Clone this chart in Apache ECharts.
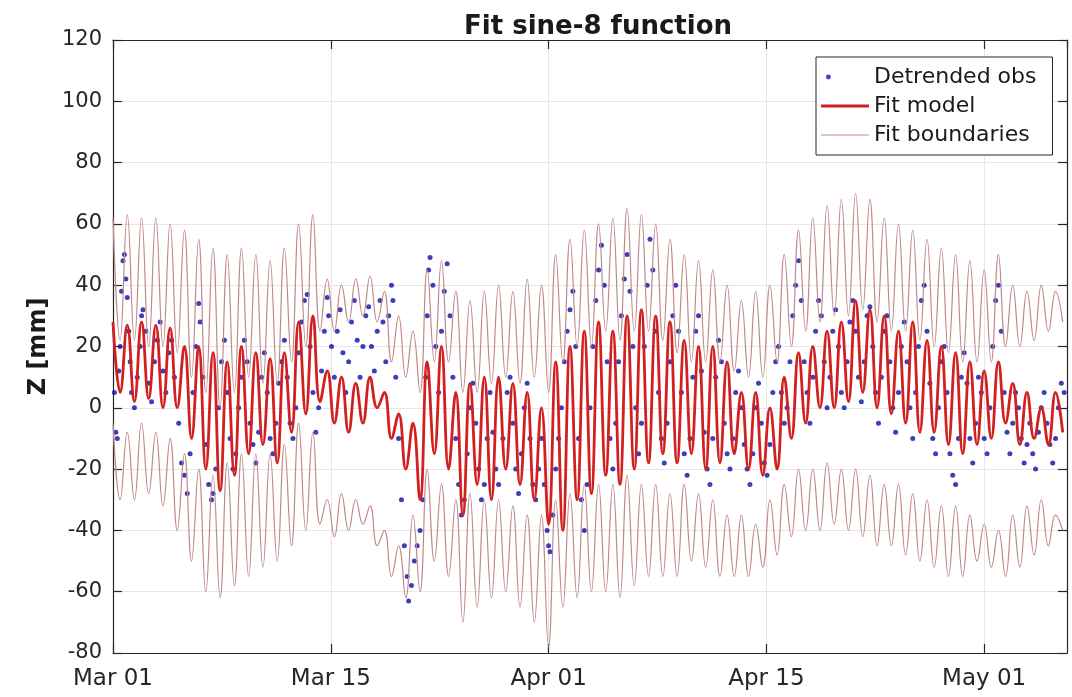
<!DOCTYPE html>
<html>
<head>
<meta charset="utf-8">
<script src="https://cdn.jsdelivr.net/npm/echarts@6/dist/echarts.min.js"></script>
<style>
  html, body { margin: 0; padding: 0; background: #fff; }
  #chart { width: 1072px; height: 697px; }
</style>
</head>
<body>
<div id="chart"></div>
<script>
// Time axis is in days since Mar 01; tick marks every 15.25 days.
const tickLabels = ['Mar 01', 'Mar 15', 'Apr 01', 'Apr 15', 'May 01'];
const tickStep = 15.25;
const yTicks = { min: -80, max: 120, step: 20 };

// Fit model, sampled every 12 h starting Mar 01 (alternating highs / lows).
const modelZ = [
  28, 5, 27, 2, 28, 3, 27, 0, 26, 0,
  20, -10, 20, -20, 18, -27, 15, -22, 20, -15,
  18, -12, 16, -18, 18, -8, 28, -2, 30, 2,
  12, -5, 10, -8, 8, -5, 10, 0, 5, -10,
  -2, -20, -5, -30, 15, -15, 20, -20, 5, -35,
  8, -25, 10, -30, 10, -20, 8, -25, 5, -30,
  0, -38, 15, -40, 20, -30, 25, -28, 28, -22,
  25, -25, 30, -20, 32, -18, 30, -15, 28, -18,
  22, -15, 20, -20, 20, -18, 15, -15, 5, -20,
  5, -22, 0, -20, 10, -10, 18, -5, 20, 0,
  25, 0, 28, 2, 35, 5, 32, 0, 30, -2,
  25, -5, 28, -8, 22, -8, 20, -12, 18, -15,
  15, -12, 12, -10, 15, -5, 8, -12, 5, -10,
  0, -12, 5, -8
];

// Upper fit boundary, same 12 h sampling.
const upperZ = [
  62, 22, 63, 22, 62, 20, 62, 20, 60, 18,
  58, 10, 55, 5, 52, 0, 50, 5, 52, 10,
  50, 8, 48, 8, 52, 15, 60, 20, 63, 25,
  42, 25, 40, 28, 42, 30, 43, 28, 38, 15,
  30, 10, 25, 5, 45, 15, 48, 15, 38, 5,
  35, 5, 38, 8, 40, 10, 38, 8, 42, 10,
  40, 5, 50, 15, 55, 20, 58, 20, 60, 25,
  62, 22, 65, 25, 63, 25, 60, 22, 55, 18,
  50, 15, 48, 15, 45, 15, 40, 12, 35, 10,
  38, 10, 40, 15, 50, 20, 58, 25, 62, 28,
  66, 30, 68, 30, 70, 32, 68, 28, 62, 25,
  60, 25, 58, 22, 55, 20, 52, 18, 50, 15,
  48, 15, 45, 15, 50, 20, 40, 20, 38, 22,
  40, 25, 38, 28
];

// Lower fit boundary, same 12 h sampling.
const lowerZ = [
  -5, -30, -8, -30, -5, -28, -8, -32, -10, -40,
  -15, -50, -20, -60, -22, -62, -18, -58, -15, -55,
  -15, -52, -15, -50, -12, -45, -5, -40, -8, -38,
  -30, -42, -28, -40, -30, -38, -32, -45, -40, -55,
  -45, -62, -35, -60, -20, -50, -25, -55, -30, -70,
  -28, -65, -30, -62, -30, -60, -32, -65, -35, -70,
  -35, -78, -30, -65, -28, -62, -25, -60, -25, -60,
  -25, -62, -22, -58, -25, -55, -25, -55, -28, -55,
  -25, -50, -28, -52, -30, -55, -35, -55, -35, -55,
  -38, -52, -30, -48, -25, -42, -20, -40, -20, -40,
  -18, -38, -20, -40, -20, -42, -22, -45, -25, -45,
  -25, -48, -28, -50, -30, -52, -32, -55, -32, -55,
  -35, -50, -38, -52, -40, -55, -35, -52, -32, -48,
  -30, -45, -35, -40
];

// Detrended observations: [day since Mar 01, Z in mm].
const obsPoints = [
  [0.1,5],[0.2,-8],[0.3,-10],[0.4,12],[0.5,20],[0.6,38],[0.7,48],[0.8,50],[0.9,42],[1.0,36],
  [1.1,25],[1.2,15],[1.3,5],[1.5,0],[1.7,10],[1.9,20],[2.0,30],[2.1,32],[2.3,25],[2.5,8],
  [2.7,2],[2.9,15],[3.1,22],[3.3,28],[3.5,12],[3.7,5],[3.9,18],[4.1,22],[4.3,10],
  [4.6,-5],[4.8,-18],[5.0,-22],[5.2,-28],[5.4,-15],[5.6,5],[5.8,20],[6.0,34],[6.1,28],[6.3,10],
  [6.5,-12],[6.7,-25],[6.9,-30],[7.0,-28],[7.2,-20],[7.4,0],[7.6,15],[7.8,22],
  [8.0,5],[8.2,-10],[8.4,-20],[8.6,-15],[8.8,0],[9.0,10],[9.2,22],[9.4,15],[9.6,-5],[9.8,-12],
  [10.0,-18],[10.2,-8],[10.4,10],[10.6,18],[10.8,5],[11.0,-10],[11.2,-15],[11.4,-5],[11.6,8],
  [11.8,15],[12.0,22],[12.2,10],
  [12.4,-5],[12.6,-10],[12.8,0],[13.0,18],[13.2,28],[13.4,35],[13.6,37],[13.8,20],[14.0,5],
  [14.2,-8],[14.4,0],[14.6,12],[14.8,25],
  [15.0,36],[15.1,30],[15.3,20],[15.5,10],[15.7,25],[15.9,32],[16.1,18],[16.3,5],[16.5,15],
  [16.7,28],[16.9,35],[17.1,22],[17.3,10],[17.5,20],[17.7,30],[17.9,33],[18.1,20],[18.3,12],
  [18.5,25],[18.7,35],[18.9,28],[19.1,15],
  [19.3,30],[19.5,40],[19.6,35],[19.8,10],[20.0,-10],[20.2,-30],[20.4,-45],[20.6,-55],[20.7,-63],
  [20.9,-58],[21.1,-50],[21.3,-45],[21.5,-40],[21.7,-30],
  [21.9,10],[22.0,30],[22.1,45],[22.2,49],[22.4,40],[22.6,20],[22.8,5],[23.0,25],[23.2,38],
  [23.4,47],[23.6,30],[23.8,10],
  [24.0,-10],[24.2,-25],[24.4,-35],[24.6,-30],[24.8,-15],[25.0,0],[25.2,8],[25.4,-5],[25.6,-20],
  [25.8,-30],[26.0,-25],[26.2,-10],[26.4,5],[26.6,-8],[26.8,-20],[27.0,-25],
  [27.3,-10],[27.6,5],[27.8,10],[28.0,-5],[28.2,-20],[28.4,-28],[28.6,-15],[28.8,0],[29.0,8],
  [29.2,-10],[29.4,-25],[29.6,-30],[29.8,-20],[30.0,-10],[30.2,-25],[30.4,-40],[30.5,-45],
  [30.6,-47],[30.8,-35],[31.0,-20],[31.2,-10],
  [31.4,0],[31.6,15],[31.8,25],[32.0,32],[32.2,38],[32.4,20],[32.6,-10],[32.8,-30],[33.0,-40],
  [33.2,-25],[33.4,0],[33.6,20],[33.8,35],[34.0,45],[34.2,53],[34.4,40],[34.6,15],[34.8,-10],[35.0,-20],
  [35.2,-5],[35.4,15],[35.6,30],[35.8,42],[36.0,50],[36.2,38],[36.4,20],[36.6,0],[36.8,-15],
  [37.0,-5],[37.2,20],[37.4,40],[37.6,55],[37.8,45],[38.0,25],[38.2,5],[38.4,-10],[38.6,-18],
  [38.8,-5],[39.0,15],[39.2,30],[39.4,40],[39.6,25],[39.8,5],[40.0,-15],[40.2,-22],[40.4,-10],
  [40.6,10],[40.8,25],[41.0,30],[41.2,12],[41.4,-8],[41.6,-20],[41.8,-25],[42.0,-10],[42.2,10],
  [42.4,22],[42.6,15],[42.8,-5],
  [43.0,-15],[43.2,-20],[43.4,-10],[43.6,5],[43.8,12],[44.0,0],[44.2,-12],[44.4,-20],[44.6,-25],
  [44.8,-15],[45.0,0],[45.2,8],[45.4,-5],[45.6,-18],[45.8,-22],[46.0,-12],[46.2,5],[46.4,15],
  [46.6,20],[46.8,5],
  [47.0,-5],[47.2,0],[47.4,15],[47.6,30],[47.8,40],[48.0,48],[48.2,35],[48.4,15],[48.6,5],
  [48.8,-5],[49.0,10],[49.2,25],[49.4,35],[49.6,30],[49.8,15],[50.0,0],[50.2,10],[50.4,25],
  [50.6,32],[50.8,20],
  [51.0,5],[51.2,0],[51.4,15],[51.6,28],[51.8,35],[52.0,25],[52.2,10],[52.4,2],[52.6,15],
  [52.8,30],[53.0,33],[53.2,20],[53.4,5],[53.6,-5],[53.8,10],[54.0,25],[54.2,30],[54.4,15],
  [54.6,0],[54.8,-8],[55.0,5],[55.2,20],[55.4,28],[55.6,15],
  [55.8,0],[56.0,-10],[56.2,5],[56.4,20],[56.6,35],[56.8,40],[57.0,25],[57.2,8],[57.4,-10],
  [57.6,-15],[57.8,0],[58.0,15],[58.2,20],[58.4,5],[58.6,-15],[58.8,-22],[59.0,-25],[59.2,-10],
  [59.4,10],[59.6,18],[59.8,8],[60.0,-10],[60.2,-18],[60.4,-5],[60.6,10],[60.8,5],
  [61.0,-10],[61.2,-15],[61.4,0],[61.6,20],[61.8,35],[62.0,40],[62.2,25],[62.4,5],[62.6,-8],
  [62.8,-15],[63.0,-5],[63.2,5],[63.4,0],[63.6,-10],[63.8,-18],[64.0,-12],[64.2,-5],[64.4,-15],
  [64.6,-20],[64.8,-8],[65.0,0],[65.2,5],[65.4,-5],[65.6,-12],[65.8,-18],[66.0,-10],[66.2,0],
  [66.4,8],[66.6,5]
];

const halfDay = 0.5;
const toSeries = arr => arr.map((z, i) => [i * halfDay, z]);

const axisColor = '#262626';
const gridColor = '#e6e6e6';
const font = 'DejaVu Sans';
const obsColor = '#0c0fa6';
const modelColor = '#d21f1f';
const boundColor = '#c48787';

// Legend glyphs: a 48x14 box with a dot at its left, a thick bar and a thin bar.
const box = 'M0,0 M48,0 M0,14 M48,14 ';
const dotIcon = 'path://' + box + 'M5,7 a2.4,2.4 0 1,0 4.8,0 a2.4,2.4 0 1,0 -4.8,0 Z';
const thickIcon = 'path://' + box + 'M0,5.6 L48,5.6 L48,8.4 L0,8.4 Z';
const thinIcon = 'path://' + box + 'M0,6.4 L48,6.4 L48,7.6 L0,7.6 Z';

const xCommon = {
  type: 'value', min: 0, max: 66.8, interval: tickStep,
  axisLine: { show: true, onZero: false, lineStyle: { color: axisColor, width: 1.2 } },
  axisTick: { show: true, inside: true, length: 9, lineStyle: { color: axisColor, width: 1.2 } }
};
const yCommon = {
  type: 'value', min: yTicks.min, max: yTicks.max, interval: yTicks.step,
  axisLine: { show: true, onZero: false, lineStyle: { color: axisColor, width: 1.2 } },
  axisTick: { show: true, inside: true, length: 9, lineStyle: { color: axisColor, width: 1.2 } }
};

const chart = echarts.init(document.getElementById('chart'), null, { renderer: 'canvas' });
chart.setOption({
  animation: false,
  backgroundColor: '#ffffff',
  title: {
    text: 'Fit sine-8 function',
    left: 459, top: 9,
    textStyle: { fontFamily: font, fontWeight: 'bold', fontSize: 26, color: '#1a1a1a' }
  },
  grid: { left: 113, right: 5, top: 40, bottom: 44, containLabel: false },
  legend: {
    orient: 'vertical',
    left: 816, top: 57,
    padding: [9, 16, 9, 5],
    itemGap: 7,
    itemWidth: 48, itemHeight: 14,
    backgroundColor: '#ffffff',
    borderColor: axisColor, borderWidth: 1,
    textStyle: { fontFamily: font, fontSize: 22, color: '#1a1a1a' },
    data: [
      { name: 'Detrended obs', icon: dotIcon },
      { name: 'Fit model', icon: thickIcon },
      { name: 'Fit boundaries', icon: thinIcon }
    ]
  },
  xAxis: [
    Object.assign({}, xCommon, {
      position: 'bottom',
      splitLine: { show: true, lineStyle: { color: gridColor, width: 1 } },
      axisLabel: {
        show: true, margin: 15, showMaxLabel: false,
        fontFamily: font, fontSize: 23, color: axisColor,
        formatter: v => {
          const i = Math.round(v / tickStep);
          return Math.abs(v - i * tickStep) < 1e-6 && tickLabels[i] ? tickLabels[i] : '';
        }
      }
    }),
    Object.assign({}, xCommon, {
      position: 'top',
      splitLine: { show: false },
      axisLabel: { show: false }
    })
  ],
  yAxis: [
    Object.assign({}, yCommon, {
      position: 'left',
      name: 'Z [mm]', nameLocation: 'middle', nameGap: 62,
      nameTextStyle: { fontFamily: font, fontWeight: 'bold', fontSize: 24, color: '#1a1a1a' },
      splitLine: { show: true, lineStyle: { color: gridColor, width: 1 } },
      axisLabel: { show: true, margin: 11, fontFamily: font, fontSize: 21, color: axisColor }
    }),
    Object.assign({}, yCommon, {
      position: 'right',
      splitLine: { show: false },
      axisLabel: { show: false }
    })
  ],
  series: [
    {
      name: 'Detrended obs', type: 'scatter',
      data: obsPoints,
      symbol: 'circle', symbolSize: 5,
      itemStyle: { color: obsColor }
    },
    {
      name: 'Fit model', type: 'line',
      data: toSeries(modelZ),
      smooth: 0.45, showSymbol: false, symbol: 'none',
      lineStyle: { color: modelColor, width: 2.8 },
      itemStyle: { color: modelColor }
    },
    {
      name: 'Fit boundaries', type: 'line',
      data: toSeries(upperZ),
      smooth: 0.45, showSymbol: false, symbol: 'none',
      lineStyle: { color: boundColor, width: 1.2 },
      itemStyle: { color: boundColor }
    },
    {
      name: 'Fit boundaries', type: 'line',
      data: toSeries(lowerZ),
      smooth: 0.45, showSymbol: false, symbol: 'none',
      lineStyle: { color: boundColor, width: 1.2 },
      itemStyle: { color: boundColor }
    }
  ]
});
</script>
</body>
</html>
